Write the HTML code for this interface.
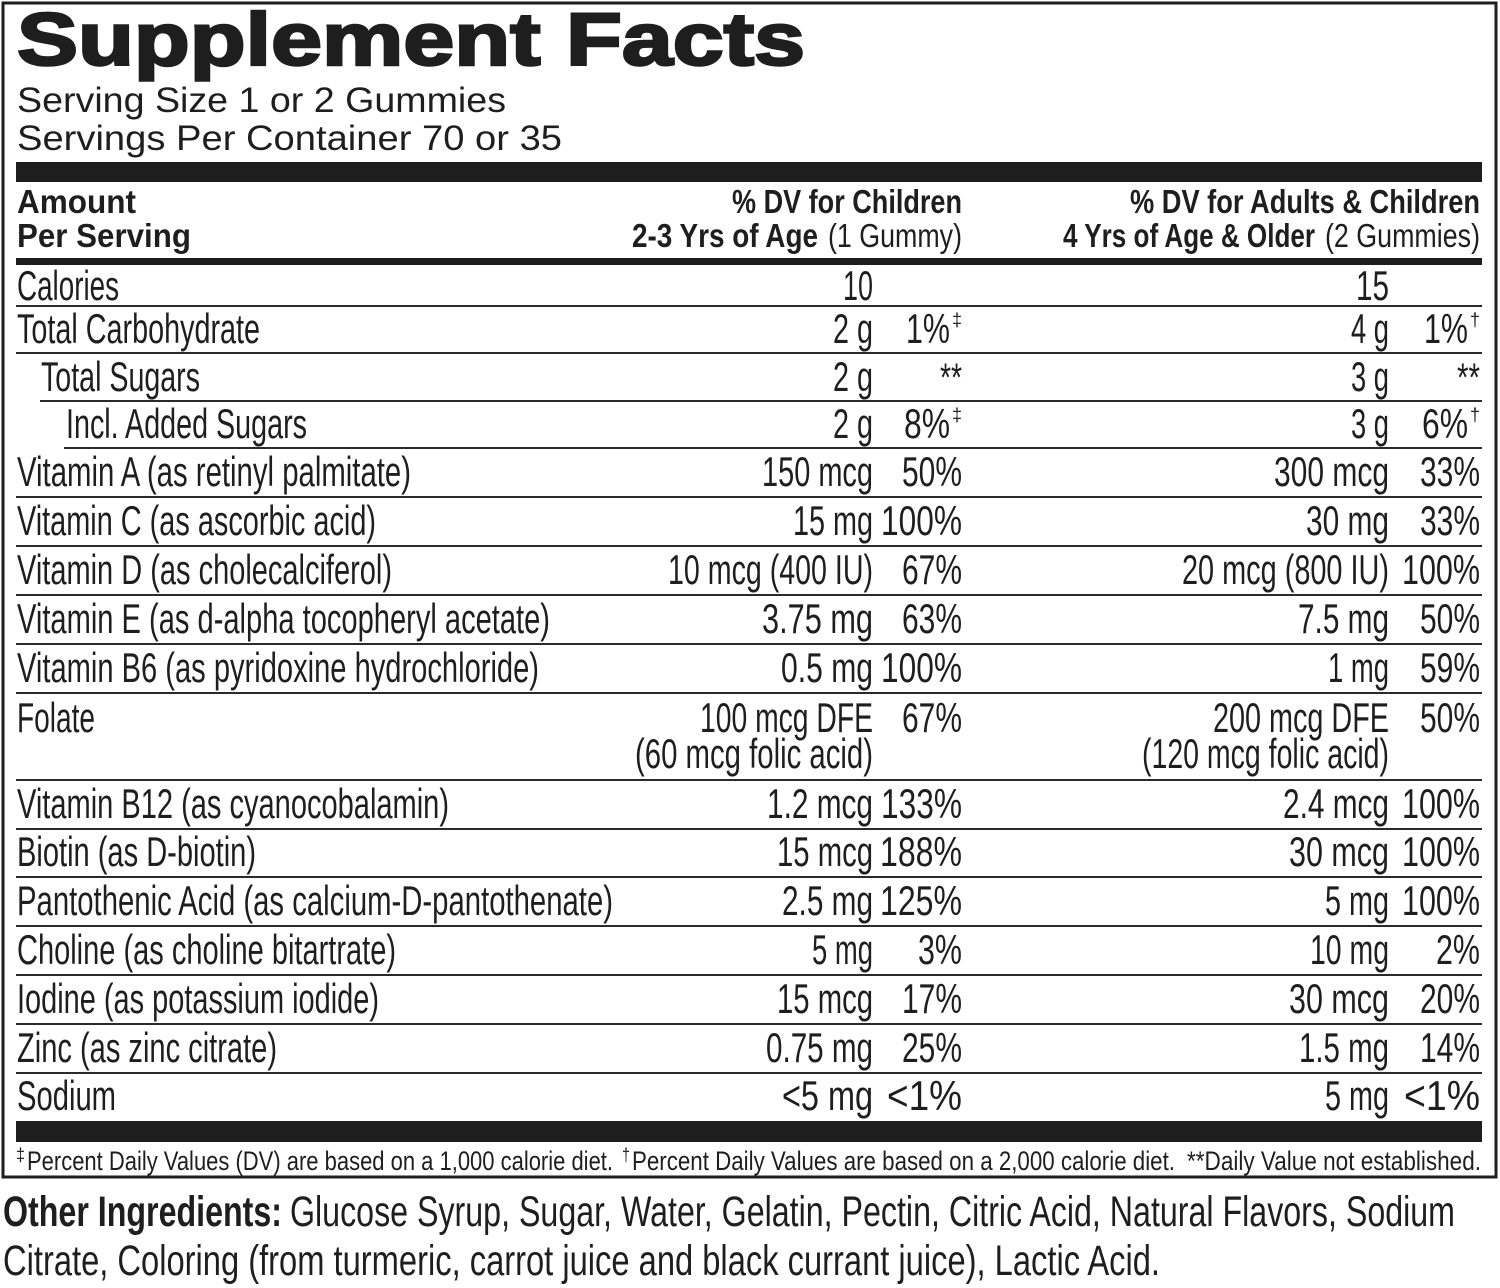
<!DOCTYPE html>
<html>
<head>
<meta charset="utf-8">
<style>
html,body{margin:0;padding:0;background:#fff;}
svg{display:block;}
text{font-family:"Liberation Sans",Arial,sans-serif;fill:#1e1e1e;}
.r{font-size:42px;}
.h{font-size:33px;font-weight:bold;}
.hr{font-size:33px;}
.sup{font-size:18px;}
.ast{font-size:40px;}
.fn{font-size:27px;}
.fs{font-size:18px;}
.oi{font-size:43px;}
</style>
</head>
<body>
<svg width="1500" height="1288" viewBox="0 0 1500 1288" xmlns="http://www.w3.org/2000/svg">
<!-- outer border -->
<rect x="3" y="3" width="1493" height="1174" fill="none" stroke="#1e1e1e" stroke-width="3"/>

<!-- title -->
<text x="17" y="65" font-size="74" font-weight="bold" stroke="#1e1e1e" stroke-width="2.5" textLength="788" lengthAdjust="spacingAndGlyphs">Supplement Facts</text>
<text x="17" y="112" font-size="35" textLength="489" lengthAdjust="spacingAndGlyphs">Serving Size 1 or 2 Gummies</text>
<text x="17" y="150" font-size="35" textLength="545" lengthAdjust="spacingAndGlyphs">Servings Per Container 70 or 35</text>

<!-- bars -->
<rect x="16" y="162" width="1466" height="20" fill="#1e1e1e"/>
<rect x="16" y="258" width="1466" height="7" fill="#1e1e1e"/>
<rect x="16" y="1121" width="1466" height="21" fill="#1e1e1e"/>

<!-- header -->
<text class="h" x="17" y="213" textLength="119" lengthAdjust="spacingAndGlyphs">Amount</text>
<text class="h" x="17" y="247" textLength="174" lengthAdjust="spacingAndGlyphs">Per Serving</text>
<text class="h" x="732" y="213" textLength="230" lengthAdjust="spacingAndGlyphs">% DV for Children</text>
<text class="h" x="632" y="247" textLength="186" lengthAdjust="spacingAndGlyphs">2-3 Yrs of Age</text>
<text class="hr" x="828" y="247" textLength="134" lengthAdjust="spacingAndGlyphs">(1 Gummy)</text>
<text class="h" x="1130" y="213" textLength="350" lengthAdjust="spacingAndGlyphs">% DV for Adults &amp; Children</text>
<text class="h" x="1063" y="247" textLength="252" lengthAdjust="spacingAndGlyphs">4 Yrs of Age &amp; Older</text>
<text class="hr" x="1325" y="247" textLength="155" lengthAdjust="spacingAndGlyphs">(2 Gummies)</text>

<!-- thin row lines -->
<g fill="#2a2a2a">
<rect x="16" y="305" width="1466" height="2"/>
<rect x="16" y="352" width="1466" height="2"/>
<rect x="40" y="400" width="1442" height="2"/>
<rect x="64" y="447" width="1418" height="2"/>
<rect x="16" y="496" width="1466" height="2"/>
<rect x="16" y="545" width="1466" height="2"/>
<rect x="16" y="594" width="1466" height="2"/>
<rect x="16" y="643" width="1466" height="2"/>
<rect x="16" y="692" width="1466" height="2"/>
<rect x="16" y="779" width="1466" height="2"/>
<rect x="16" y="828" width="1466" height="2"/>
<rect x="16" y="876" width="1466" height="2"/>
<rect x="16" y="925" width="1466" height="2"/>
<rect x="16" y="974" width="1466" height="2"/>
<rect x="16" y="1023" width="1466" height="2"/>
<rect x="16" y="1072" width="1466" height="2"/>
</g>

<!-- labels -->
<g class="r">
<text class="r" x="17" y="300" textLength="102" lengthAdjust="spacingAndGlyphs">Calories</text>
<text class="r" x="17" y="343" textLength="243" lengthAdjust="spacingAndGlyphs">Total Carbohydrate</text>
<text class="r" x="41" y="391" textLength="159" lengthAdjust="spacingAndGlyphs">Total Sugars</text>
<text class="r" x="66" y="438" textLength="241" lengthAdjust="spacingAndGlyphs">Incl. Added Sugars</text>
<text class="r" x="17" y="486" textLength="394" lengthAdjust="spacingAndGlyphs">Vitamin A (as retinyl palmitate)</text>
<text class="r" x="17" y="535" textLength="359" lengthAdjust="spacingAndGlyphs">Vitamin C (as ascorbic acid)</text>
<text class="r" x="17" y="584" textLength="375" lengthAdjust="spacingAndGlyphs">Vitamin D (as cholecalciferol)</text>
<text class="r" x="17" y="633" textLength="533" lengthAdjust="spacingAndGlyphs">Vitamin E (as d-alpha tocopheryl acetate)</text>
<text class="r" x="17" y="682" textLength="522" lengthAdjust="spacingAndGlyphs">Vitamin B6 (as pyridoxine hydrochloride)</text>
<text class="r" x="17" y="732" textLength="78" lengthAdjust="spacingAndGlyphs">Folate</text>
<text class="r" x="17" y="818" textLength="432" lengthAdjust="spacingAndGlyphs">Vitamin B12 (as cyanocobalamin)</text>
<text class="r" x="17" y="866" textLength="239" lengthAdjust="spacingAndGlyphs">Biotin (as D-biotin)</text>
<text class="r" x="17" y="915" textLength="596" lengthAdjust="spacingAndGlyphs">Pantothenic Acid (as calcium-D-pantothenate)</text>
<text class="r" x="17" y="964" textLength="379" lengthAdjust="spacingAndGlyphs">Choline (as choline bitartrate)</text>
<text class="r" x="17" y="1013" textLength="362" lengthAdjust="spacingAndGlyphs">Iodine (as potassium iodide)</text>
<text class="r" x="17" y="1062" textLength="260" lengthAdjust="spacingAndGlyphs">Zinc (as zinc citrate)</text>
<text class="r" x="17" y="1110" textLength="99" lengthAdjust="spacingAndGlyphs">Sodium</text>
</g>

<!-- child amounts -->
<g text-anchor="end">
<text class="r" x="873" y="300" textLength="30" lengthAdjust="spacingAndGlyphs">10</text>
<text class="r" x="873" y="343" textLength="40" lengthAdjust="spacingAndGlyphs">2 g</text>
<text class="r" x="873" y="391" textLength="40" lengthAdjust="spacingAndGlyphs">2 g</text>
<text class="r" x="873" y="438" textLength="40" lengthAdjust="spacingAndGlyphs">2 g</text>
<text class="r" x="873" y="486" textLength="111" lengthAdjust="spacingAndGlyphs">150 mcg</text>
<text class="r" x="873" y="535" textLength="80" lengthAdjust="spacingAndGlyphs">15 mg</text>
<text class="r" x="873" y="584" textLength="205" lengthAdjust="spacingAndGlyphs">10 mcg (400 IU)</text>
<text class="r" x="873" y="633" textLength="111" lengthAdjust="spacingAndGlyphs">3.75 mg</text>
<text class="r" x="873" y="682" textLength="92" lengthAdjust="spacingAndGlyphs">0.5 mg</text>
<text class="r" x="873" y="732" textLength="173" lengthAdjust="spacingAndGlyphs">100 mcg DFE</text>
<text class="r" x="873" y="768" textLength="238" lengthAdjust="spacingAndGlyphs">(60 mcg folic acid)</text>
<text class="r" x="873" y="818" textLength="106" lengthAdjust="spacingAndGlyphs">1.2 mcg</text>
<text class="r" x="873" y="866" textLength="96" lengthAdjust="spacingAndGlyphs">15 mcg</text>
<text class="r" x="873" y="915" textLength="91" lengthAdjust="spacingAndGlyphs">2.5 mg</text>
<text class="r" x="873" y="964" textLength="61" lengthAdjust="spacingAndGlyphs">5 mg</text>
<text class="r" x="873" y="1013" textLength="96" lengthAdjust="spacingAndGlyphs">15 mcg</text>
<text class="r" x="873" y="1062" textLength="107" lengthAdjust="spacingAndGlyphs">0.75 mg</text>
<text class="r" x="873" y="1110" textLength="91" lengthAdjust="spacingAndGlyphs">&lt;5 mg</text>
</g>

<!-- child DV -->
<g text-anchor="end">
<text class="r" x="950" y="343" textLength="44" lengthAdjust="spacingAndGlyphs">1%</text>
<text class="ast" x="962" y="391" textLength="22" lengthAdjust="spacingAndGlyphs">**</text>
<text class="r" x="950" y="438" textLength="46" lengthAdjust="spacingAndGlyphs">8%</text>
<text class="r" x="962" y="486" textLength="60" lengthAdjust="spacingAndGlyphs">50%</text>
<text class="r" x="962" y="535" textLength="81" lengthAdjust="spacingAndGlyphs">100%</text>
<text class="r" x="962" y="584" textLength="60" lengthAdjust="spacingAndGlyphs">67%</text>
<text class="r" x="962" y="633" textLength="60" lengthAdjust="spacingAndGlyphs">63%</text>
<text class="r" x="962" y="682" textLength="81" lengthAdjust="spacingAndGlyphs">100%</text>
<text class="r" x="962" y="732" textLength="60" lengthAdjust="spacingAndGlyphs">67%</text>
<text class="r" x="962" y="818" textLength="81" lengthAdjust="spacingAndGlyphs">133%</text>
<text class="r" x="962" y="866" textLength="82" lengthAdjust="spacingAndGlyphs">188%</text>
<text class="r" x="962" y="915" textLength="82" lengthAdjust="spacingAndGlyphs">125%</text>
<text class="r" x="962" y="964" textLength="44" lengthAdjust="spacingAndGlyphs">3%</text>
<text class="r" x="962" y="1013" textLength="60" lengthAdjust="spacingAndGlyphs">17%</text>
<text class="r" x="962" y="1062" textLength="60" lengthAdjust="spacingAndGlyphs">25%</text>
<text class="r" x="962" y="1110" textLength="75" lengthAdjust="spacingAndGlyphs">&lt;1%</text>
</g>
<text class="sup" x="952" y="326" textLength="10" lengthAdjust="spacingAndGlyphs">‡</text>
<text class="sup" x="952" y="421" textLength="10" lengthAdjust="spacingAndGlyphs">‡</text>

<!-- adult amounts -->
<g text-anchor="end">
<text class="r" x="1389" y="300" textLength="33" lengthAdjust="spacingAndGlyphs">15</text>
<text class="r" x="1389" y="343" textLength="38" lengthAdjust="spacingAndGlyphs">4 g</text>
<text class="r" x="1389" y="391" textLength="38" lengthAdjust="spacingAndGlyphs">3 g</text>
<text class="r" x="1389" y="438" textLength="38" lengthAdjust="spacingAndGlyphs">3 g</text>
<text class="r" x="1389" y="486" textLength="115" lengthAdjust="spacingAndGlyphs">300 mcg</text>
<text class="r" x="1389" y="535" textLength="83" lengthAdjust="spacingAndGlyphs">30 mg</text>
<text class="r" x="1389" y="584" textLength="207" lengthAdjust="spacingAndGlyphs">20 mcg (800 IU)</text>
<text class="r" x="1389" y="633" textLength="91" lengthAdjust="spacingAndGlyphs">7.5 mg</text>
<text class="r" x="1389" y="682" textLength="61" lengthAdjust="spacingAndGlyphs">1 mg</text>
<text class="r" x="1389" y="732" textLength="176" lengthAdjust="spacingAndGlyphs">200 mcg DFE</text>
<text class="r" x="1389" y="768" textLength="247" lengthAdjust="spacingAndGlyphs">(120 mcg folic acid)</text>
<text class="r" x="1389" y="818" textLength="106" lengthAdjust="spacingAndGlyphs">2.4 mcg</text>
<text class="r" x="1389" y="866" textLength="100" lengthAdjust="spacingAndGlyphs">30 mcg</text>
<text class="r" x="1389" y="915" textLength="64" lengthAdjust="spacingAndGlyphs">5 mg</text>
<text class="r" x="1389" y="964" textLength="79" lengthAdjust="spacingAndGlyphs">10 mg</text>
<text class="r" x="1389" y="1013" textLength="100" lengthAdjust="spacingAndGlyphs">30 mcg</text>
<text class="r" x="1389" y="1062" textLength="90" lengthAdjust="spacingAndGlyphs">1.5 mg</text>
<text class="r" x="1389" y="1110" textLength="64" lengthAdjust="spacingAndGlyphs">5 mg</text>
</g>

<!-- adult DV -->
<g text-anchor="end">
<text class="r" x="1468" y="343" textLength="44" lengthAdjust="spacingAndGlyphs">1%</text>
<text class="ast" x="1480" y="391" textLength="23" lengthAdjust="spacingAndGlyphs">**</text>
<text class="r" x="1468" y="438" textLength="46" lengthAdjust="spacingAndGlyphs">6%</text>
<text class="r" x="1480" y="486" textLength="60" lengthAdjust="spacingAndGlyphs">33%</text>
<text class="r" x="1480" y="535" textLength="60" lengthAdjust="spacingAndGlyphs">33%</text>
<text class="r" x="1480" y="584" textLength="78" lengthAdjust="spacingAndGlyphs">100%</text>
<text class="r" x="1480" y="633" textLength="60" lengthAdjust="spacingAndGlyphs">50%</text>
<text class="r" x="1480" y="682" textLength="60" lengthAdjust="spacingAndGlyphs">59%</text>
<text class="r" x="1480" y="732" textLength="60" lengthAdjust="spacingAndGlyphs">50%</text>
<text class="r" x="1480" y="818" textLength="78" lengthAdjust="spacingAndGlyphs">100%</text>
<text class="r" x="1480" y="866" textLength="78" lengthAdjust="spacingAndGlyphs">100%</text>
<text class="r" x="1480" y="915" textLength="78" lengthAdjust="spacingAndGlyphs">100%</text>
<text class="r" x="1480" y="964" textLength="44" lengthAdjust="spacingAndGlyphs">2%</text>
<text class="r" x="1480" y="1013" textLength="60" lengthAdjust="spacingAndGlyphs">20%</text>
<text class="r" x="1480" y="1062" textLength="60" lengthAdjust="spacingAndGlyphs">14%</text>
<text class="r" x="1480" y="1110" textLength="76" lengthAdjust="spacingAndGlyphs">&lt;1%</text>
</g>
<text class="sup" x="1470" y="326" textLength="10" lengthAdjust="spacingAndGlyphs">†</text>
<text class="sup" x="1470" y="421" textLength="10" lengthAdjust="spacingAndGlyphs">†</text>

<!-- footnote -->
<text class="fs" x="16" y="1161" textLength="9" lengthAdjust="spacingAndGlyphs">‡</text>
<text class="fn" x="27" y="1170" textLength="586" lengthAdjust="spacingAndGlyphs">Percent Daily Values (DV) are based on a 1,000 calorie diet.</text>
<text class="fs" x="622" y="1161" textLength="8" lengthAdjust="spacingAndGlyphs">†</text>
<text class="fn" x="632" y="1170" textLength="543" lengthAdjust="spacingAndGlyphs">Percent Daily Values are based on a 2,000 calorie diet.</text>
<text class="fn" x="1187" y="1170" textLength="294" lengthAdjust="spacingAndGlyphs">**Daily Value not established.</text>

<!-- other ingredients -->
<text class="oi" x="3" y="1226" font-weight="bold" textLength="279" lengthAdjust="spacingAndGlyphs">Other Ingredients:</text>
<text class="oi" x="290" y="1226" textLength="1165" lengthAdjust="spacingAndGlyphs">Glucose Syrup, Sugar, Water, Gelatin, Pectin, Citric Acid, Natural Flavors, Sodium</text>
<text class="oi" x="3" y="1275" textLength="1157" lengthAdjust="spacingAndGlyphs">Citrate, Coloring (from turmeric, carrot juice and black currant juice), Lactic Acid.</text>
</svg>
</body>
</html>
